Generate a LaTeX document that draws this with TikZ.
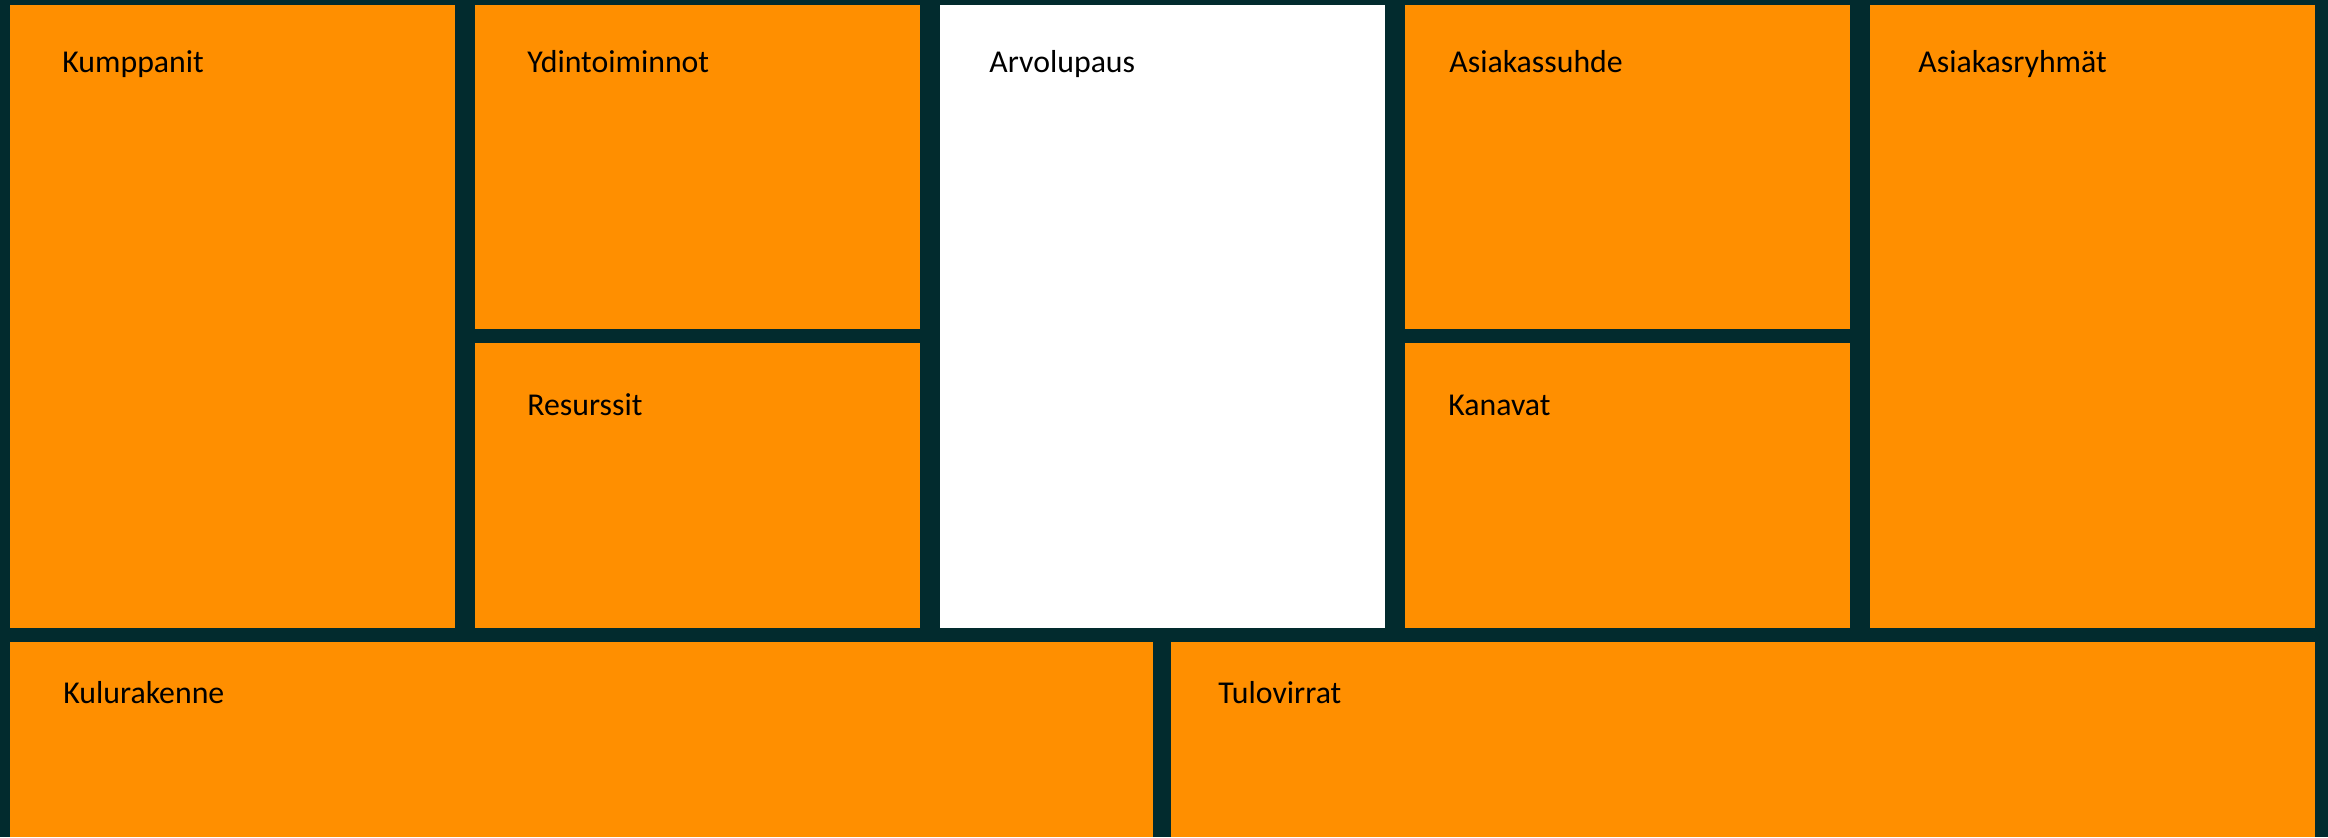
\documentclass[tikz,border=0pt]{standalone}
\usepackage{fontspec}
\setmainfont{Carlito}
\definecolor{pohja}{HTML}{022B2E}
\definecolor{oranssi}{HTML}{FF8F00}
\tikzset{
    ruutu/.style={fill=oranssi},
    otsikko/.style={anchor=base west, inner sep=0pt, text=black, font=\fontsize{15.9}{18}\selectfont}
}
\begin{document}
\begin{tikzpicture}[x=0.5pt, y=-0.5pt]
    % 1. Tumma tausta
    \fill[pohja] (0,0) rectangle (2328,837);

    % 2. Ylärivin ruudut
    \fill[ruutu] (10,5) rectangle (455,628);
    \fill[ruutu] (475,5) rectangle (920,329);
    \fill[ruutu] (475,343) rectangle (920,628);
    \fill[white] (940,5) rectangle (1385,628);
    \fill[ruutu] (1405,5) rectangle (1850,329);
    \fill[ruutu] (1405,343) rectangle (1850,628);
    \fill[ruutu] (1870,5) rectangle (2315,628);

    % 3. Alarivin ruudut
    \fill[ruutu] (10,642) rectangle (1153,837);
    \fill[ruutu] (1171,642) rectangle (2315,837);

    % 4. Otsikot
    \node[otsikko] (kumppanit) at (62,72) {Kumppanit};
    \node[otsikko] (ydin) at (527,72) {Ydintoiminnot};
    \node[otsikko] (resurssit) at (527,415) {Resurssit};
    \node[otsikko] (arvo) at (989,72) {Arvolupaus};
    \node[otsikko] (suhde) at (1449,72) {Asiakassuhde};
    \node[otsikko] (kanavat) at (1448,415) {Kanavat};
    \node[otsikko] (ryhmat) at (1918,72) {Asiakasryhmät};
    \node[otsikko] (kulut) at (63,703) {Kulurakenne};
    \node[otsikko] (tulot) at (1218,703) {Tulovirrat};
\end{tikzpicture}
\end{document}
